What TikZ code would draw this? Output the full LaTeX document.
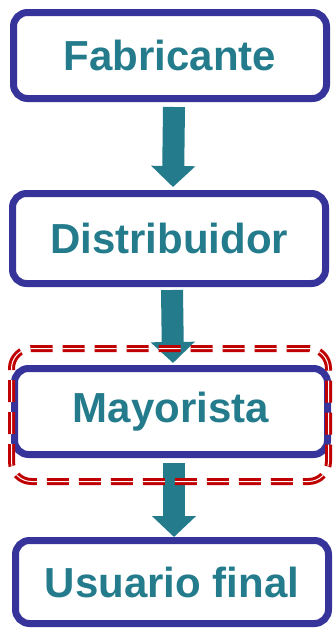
\documentclass[tikz,border=0pt]{standalone}
\usepackage{fontspec}
\setmainfont{Liberation Sans}
\usetikzlibrary{arrows.meta}

\definecolor{boxblue}{RGB}{54,52,154}
\definecolor{flowteal}{RGB}{35,123,140}
\definecolor{markred}{RGB}{192,0,0}

\tikzset{
  stage/.style={draw=boxblue, line width=7pt, rounded corners=14pt, fill=white,
                minimum width=313pt, minimum height=86pt, inner sep=0pt,
                text=flowteal, font=\fontsize{42}{48}\selectfont\bfseries},
  flow/.style={draw=flowteal, line width=22pt,
               -{Triangle[width=43pt,length=21pt]}},
  selbox/.style={draw=markred, double=white, double distance=1pt, line width=3pt,
                 dash pattern=on 22pt off 10pt, rounded corners=20pt,
                 minimum width=317pt, minimum height=133pt, inner sep=0pt}
}

\begin{document}
\begin{tikzpicture}[x=1pt, y=-1pt]
  \useasboundingbox (0,0) rectangle (333,629);

  % the four stages of the chain
  \node[stage] (fab) at (170,55.5) {Fabricante};
  \node[stage, minimum height=90pt] (dist) at (169,238.5) {Distribuidor};
  \node[stage] (may) at (171,411.5) {Mayorista};
  \node[stage, minimum height=83pt] (usr) at (172,582) {Usuario final};

  % arrows between them
  \draw[flow] ([xshift=4pt,yshift=-5pt]fab.south) -- ([xshift=4pt,yshift=3pt]dist.north);
  \draw[flow] ([xshift=3pt,yshift=-3pt]dist.south) -- ([xshift=2pt,yshift=2pt]may.north);
  \draw[flow] ([xshift=3pt,yshift=-5pt]may.south) -- ([xshift=2pt]usr.north);

  % highlight round the wholesaler
  \node[selbox] (sel) at (170,415) {};
\end{tikzpicture}
\end{document}
